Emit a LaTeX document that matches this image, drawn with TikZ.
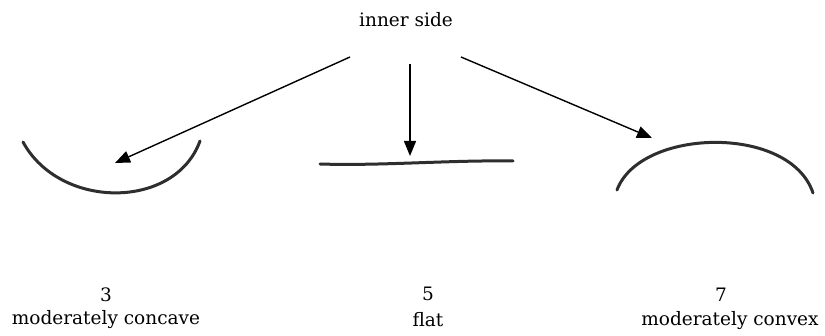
\documentclass[tikz,border=0pt]{standalone}
\usepackage{fontspec}
\setmainfont{DejaVu Serif}
\usetikzlibrary{arrows.meta}
\definecolor{curvegray}{HTML}{2E2E2E}
\tikzset{
  lbl/.style={anchor=base, inner sep=0pt, font=\fontsize{18.5}{22}\selectfont},
  pointer/.style={line width=1.4pt, -{Triangle[length=15pt,width=12pt]}},
  shapeline/.style={line width=3pt, curvegray, line cap=round},
}
\begin{document}
\begin{tikzpicture}[x=1pt,y=-1pt]
\useasboundingbox (0,0) rectangle (825,336);
% title
\node[lbl] (title) at (406,27) {inner side};
% arrow starts and ends
\coordinate (sL) at (350,57);
\coordinate (sM) at (410,64);
\coordinate (sR) at (461,57);
\coordinate (eL) at (115,163);
\coordinate (eM) at (410,156);
\coordinate (eR) at (652,138);
% shapes
\draw[shapeline] (23,142) .. controls (60,210) and (175,210) .. (200,141);
\draw[shapeline] (320,164) .. controls (380,166) and (450,160) .. (513,161);
\draw[shapeline] (617,190) .. controls (640,128) and (790,124) .. (813,193);
% arrows
\draw[pointer] (sL) -- (eL);
\draw[pointer] (sM) -- (eM);
\draw[pointer] (sR) -- (eR);
% labels
\node[lbl] (n3) at (106,302) {3};
\node[lbl] (t3) at (106,325) {moderately concave};
\node[lbl] (n5) at (428,301) {5};
\node[lbl] (t5) at (428,327) {flat};
\node[lbl] (n7) at (721,302) {7};
\node[lbl] (t7) at (730,326) {moderately convex};
\end{tikzpicture}
\end{document}
